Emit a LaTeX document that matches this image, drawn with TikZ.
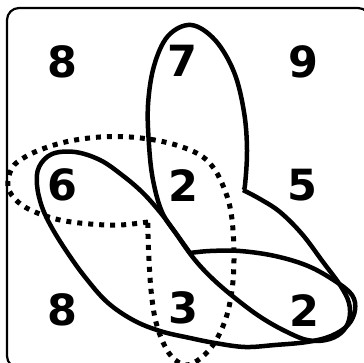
\documentclass[tikz,border=0pt]{standalone}
\usepackage{fontspec}
\setmainfont{DejaVu Sans}
\begin{document}
\begin{tikzpicture}[x=1pt,y=-1pt,
    chiffre/.style={font=\bfseries\fontsize{43}{43}\selectfont, inner sep=0pt},
    trait/.style={line width=4.5pt, line join=round},
    pointille/.style={line width=5pt, dash pattern=on 5pt off 6pt}]

    \useasboundingbox (0,0) rectangle (364,363);

    % Cadre
    \draw[line width=2.2pt, rounded corners=12pt] (7,8) rectangle (370,368);

    % Chiffres
    \node[chiffre] (hg) at (62,62) {8};
    \node[chiffre] (hm) at (182,61) {7};
    \node[chiffre] (hd) at (303,62) {9};
    \node[chiffre] (mg) at (62,185) {6};
    \node[chiffre] (mm) at (183,186) {2};
    \node[chiffre] (md) at (302,185) {5};
    \node[chiffre] (bg) at (62,310) {8};
    \node[chiffre] (bm) at (183,308) {3};
    \node[chiffre] (bd) at (304,311) {2};

    % Zone 7-2-2
    \draw[trait] plot[smooth, tension=0.6] coordinates {
        (243,190) (245,185) (247,150) (244,112) (234,72) (215,40) (191,25)
        (168,36) (154,66) (148,105) (149,145) (153,180) (162,212) (177,235)
        (195,260) (215,281) (240,302) (262,318) (285,331) (307,340) (326,340)
        (341,333) (349,320) (349,303) (340,285) (323,262) (302,234) (280,212)
        (260,199) (243,190)};

    % Zone 6-3-2
    \draw[trait] plot[smooth, tension=0.6] coordinates {
        (190,253) (175,232) (160,212) (142,192) (122,175) (100,160) (75,152)
        (52,154) (39,167) (37,185) (42,207) (52,228) (67,252) (85,277)
        (107,302) (133,320) (160,331) (190,338) (215,343) (245,347) (275,345)
        (307,342) (331,336) (348,325) (355,310) (352,295) (335,281) (308,266)
        (275,256) (240,251) (210,251) (190,253)};

    % Zone 6-2-3
    \draw[pointille] plot[smooth, tension=0.6] coordinates {
        (148,222) (120,225) (90,224) (60,220) (35,212) (18,202) (8,187)
        (12,168) (25,157) (45,148) (70,141) (100,137) (130,137) (160,141)
        (185,148) (203,157) (215,170) (224,188) (230,207) (233,230) (234,260)
        (232,290) (226,318) (215,342) (201,358) (186,365) (172,357) (162,340)
        (155,318) (151,290) (149,260) (148,235) (148,222)};

\end{tikzpicture}
\end{document}
